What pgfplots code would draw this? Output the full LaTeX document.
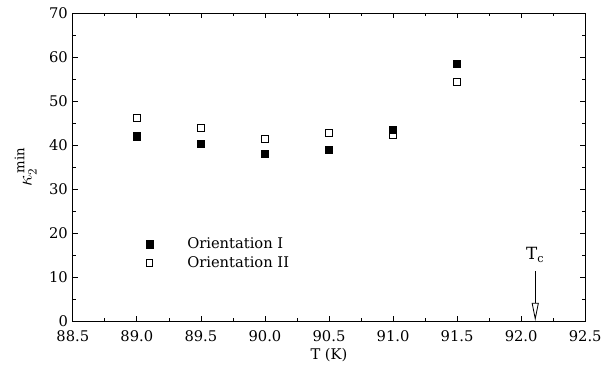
\documentclass[border=0pt]{standalone}
\usepackage{fontspec}
\setmainfont{DejaVu Serif}
\usepackage{pgfplots}
\pgfplotsset{compat=1.18}
\usetikzlibrary{arrows.meta}
\begin{document}
\begin{tikzpicture}
\useasboundingbox (-52pt,-33.6pt) rectangle (388pt,229.3pt);
\begin{axis}[
  at={(0,0)}, anchor=south west,
  scale only axis,
  width=366pt, height=220pt,
  xmin=88.5, xmax=92.5, ymin=0, ymax=70,
  xtick={88.5,89,...,92.5},
  ytick={0,10,...,70},
  minor x tick num=1, minor y tick num=1,
  major tick length=3.5pt, minor tick length=2pt,
  tick style={black, line width=0.5pt},
  axis line style={line width=0.7pt},
  xticklabel style={yshift=-3.5pt, /pgf/number format/.cd, fixed, fixed zerofill, precision=1},
  /pgf/number format/assume math mode=true,
  tick label style={font=\fontsize{10.5}{12}\selectfont},
  xlabel={T (K)},
  xlabel style={font=\fontsize{10.5}{12}\selectfont, yshift=2pt},
  ylabel={$\kappa_2^{\,\mathrm{min}}$},
  every axis y label/.style={at={(axis description cs:-0.092,0.5)}, rotate=90, anchor=center, font=\fontsize{13.5}{14}\selectfont},
  legend style={draw=none, fill=none, at={(axis cs:89.035,15.35)}, anchor=west,
    font=\fontsize{10.5}{12}\selectfont, row sep=0pt},
  legend cell align=left,
  legend image code/.code={\draw[#1] plot coordinates {(0pt,0pt)}; \path[draw=none] (0pt,0pt) -- (25pt,0pt);},
]
\addplot[only marks, mark=square*, mark size=2.6pt, mark options={fill=black, draw=black}]
  coordinates {(89.0,42.0) (89.5,40.3) (90.0,38.0) (90.5,38.9) (91.0,43.4) (91.5,58.4)};
\addlegendentry{Orientation I}
\addplot[only marks, mark=square, mark size=2.4pt, mark options={draw=black, line width=0.6pt}]
  coordinates {(89.0,46.2) (89.5,43.9) (90.0,41.4) (90.5,42.8) (91.0,42.2) (91.5,54.3)};
\addlegendentry{Orientation II}
\draw[line width=0.6pt, -{Triangle[open, length=13pt, width=5pt]}] (axis cs:92.11,11.3) -- (axis cs:92.11,0);
\node[font=\fontsize{12}{13}\selectfont] at (axis cs:92.11,15) {T$_{\mathrm{c}}$};
\end{axis}
\end{tikzpicture}
\end{document}
